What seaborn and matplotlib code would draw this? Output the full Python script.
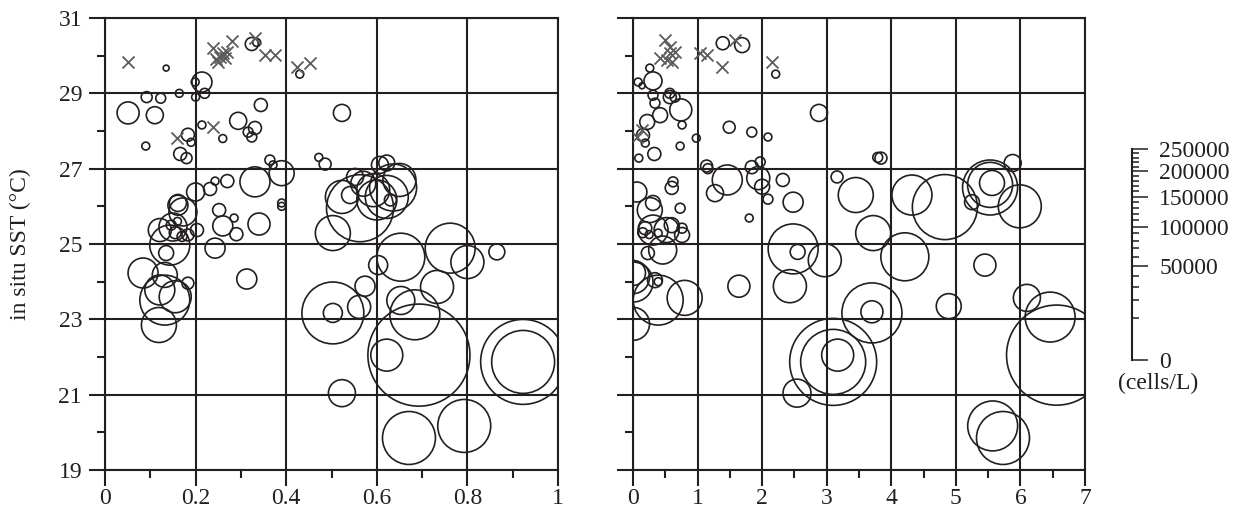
import numpy as np
import pandas as pd
import matplotlib.pyplot as plt
import matplotlib.ticker as mticker
import seaborn as sns

# left panel: circles (x, in situ SST, cells/L)
left_x = [0.135, 0.324, 0.335, 0.43, 0.214, 0.199, 0.20, 0.22, 0.164, 0.092,
          0.123, 0.051, 0.11, 0.09, 0.183, 0.19, 0.166, 0.18, 0.214, 0.26,
          0.294, 0.331, 0.316, 0.324, 0.344, 0.523, 0.472, 0.486, 0.364, 0.371,
          0.39, 0.331, 0.27, 0.243, 0.232, 0.20, 0.161, 0.39, 0.39, 0.503,
          0.523, 0.563, 0.636, 0.622, 0.607, 0.622, 0.552, 0.541, 0.60, 0.63,
          0.592, 0.65, 0.57, 0.762, 0.80, 0.865, 0.603, 0.653, 0.733, 0.653,
          0.574, 0.561, 0.503, 0.503, 0.684, 0.693, 0.622, 0.923, 0.923, 0.523,
          0.671, 0.793, 0.119, 0.143, 0.121, 0.15, 0.161, 0.172, 0.183, 0.203,
          0.135, 0.084, 0.132, 0.121, 0.132, 0.155, 0.183, 0.243, 0.313, 0.252,
          0.26, 0.29, 0.285, 0.34, 0.146, 0.16, 0.155, 0.17]
left_sst = [29.67, 30.31, 30.35, 29.51, 29.3, 29.3, 28.9, 29.0, 29.0, 28.9,
            28.87, 28.48, 28.42, 27.6, 27.9, 27.7, 27.39, 27.28, 28.16, 27.8,
            28.27, 28.08, 27.97, 27.84, 28.69, 28.48, 27.3, 27.12, 27.23, 27.1,
            26.88, 26.65, 26.67, 26.67, 26.46, 26.38, 26.09, 26.09, 26.0, 25.29,
            26.25, 25.95, 26.5, 26.25, 27.1, 27.15, 26.78, 26.3, 26.17, 26.17,
            26.43, 26.7, 26.6, 24.89, 24.52, 24.79, 24.44, 24.65, 23.86, 23.5,
            23.88, 23.33, 23.17, 23.17, 23.12, 22.05, 22.05, 21.87, 21.87, 21.04,
            19.85, 20.17, 22.85, 24.97, 25.37, 25.45, 26.03, 25.85, 25.24, 25.37,
            24.76, 24.23, 24.18, 23.78, 23.51, 23.6, 23.96, 24.89, 24.07, 25.9,
            25.48, 25.26, 25.69, 25.53, 25.5, 25.6, 25.3, 25.2]
left_cells = [800, 3800, 1400, 1400, 9000, 1400, 1400, 2200, 1400, 2700,
              2200, 10900, 6500, 1400, 3800, 1400, 3800, 2700, 1400, 1400,
              6500, 3800, 2200, 2200, 3800, 6500, 1400, 3200, 2200, 1400,
              14000, 20200, 3800, 1400, 3800, 7300, 6500, 1400, 1400, 27500,
              24500, 101000, 49600, 41500, 6500, 5700, 6500, 6500, 36000, 3200,
              24500, 24500, 14000, 56000, 24500, 5700, 8100, 51700, 24500, 17600,
              9000, 11900, 8100, 86000, 56000, 234000, 23000, 162000, 89000, 16400,
              63000, 63000, 27500, 36000, 11900, 17600, 9000, 17600, 3200, 3800,
              5000, 20200, 14000, 20200, 56000, 23000, 3200, 9000, 9000, 3800,
              9000, 3800, 1400, 10900, 2200, 1400, 3200, 2200]
# left panel: samples with no cells (crosses)
left_zero_x = [0.051, 0.239, 0.28, 0.25, 0.26, 0.27, 0.254, 0.245, 0.265,
               0.331, 0.353, 0.375, 0.424, 0.453, 0.159, 0.238]
left_zero_sst = [29.83, 30.2, 30.4, 29.83, 30.07, 30.1, 29.96, 29.9, 29.95,
                 30.47, 30.02, 30.02, 29.7, 29.8, 27.81, 28.1]

# right panel
right_x = [1.39, 1.69, 2.21, 0.26, 0.31, 0.08, 0.14, 0.31, 0.57, 0.57,
           0.65, 0.34, 0.74, 0.42, 0.22, 0.76, 0.155, 0.19, 0.33, 0.09,
           0.73, 0.98, 1.49, 1.84, 2.09, 2.88, 3.79, 1.14, 1.16, 1.46,
           1.27, 1.84, 1.97, 1.94, 2.0, 2.32, 2.09, 2.48, 3.16, 3.45,
           0.06, 0.62, 0.6, 0.31, 0.26, 0.73, 0.31, 0.52, 0.6, 0.19,
           0.39, 0.76, 0.76, 0.46, 0.23, 0.0, 0.0, 0.0, 0.34, 0.39,
           0.39, 0.8, 0.0, 1.8, 2.48, 2.55, 2.97, 2.43, 1.64, 3.72,
           3.70, 3.70, 3.84, 4.32, 4.83, 5.53, 5.53, 5.56, 5.88, 5.25,
           5.99, 4.21, 5.45, 4.89, 6.1, 6.46, 6.56, 5.57, 5.73, 3.1,
           3.1, 3.17, 2.54, 0.15, 0.25]
right_sst = [30.33, 30.28, 29.51, 29.67, 29.33, 29.3, 29.2, 28.95, 28.9, 29.0,
             28.9, 28.74, 28.56, 28.42, 28.24, 28.16, 27.89, 27.68, 27.39, 27.28,
             27.6, 27.81, 28.1, 27.97, 27.84, 28.48, 27.3, 27.07, 27.0, 26.7,
             26.35, 27.04, 27.18, 26.75, 26.52, 26.7, 26.19, 26.11, 26.78, 26.3,
             26.38, 26.65, 26.49, 26.09, 25.9, 25.95, 25.37, 25.37, 25.5, 25.42,
             25.29, 25.24, 25.42, 24.84, 24.76, 24.23, 24.12, 23.99, 24.04, 24.0,
             23.51, 23.57, 22.88, 25.69, 24.87, 24.79, 24.57, 23.88, 23.88, 25.29,
             23.17, 23.2, 27.28, 26.3, 25.98, 26.5, 26.57, 26.62, 27.15, 26.11,
             26.0, 24.66, 24.44, 23.35, 23.57, 23.06, 22.05, 20.17, 19.85, 21.87,
             21.87, 22.05, 21.04, 25.3, 25.25]
right_cells = [3800, 5000, 1400, 1400, 7300, 1400, 800, 2200, 3800, 2200,
               2200, 2200, 10900, 5000, 5000, 1400, 3800, 1400, 3800, 1400,
               1400, 1400, 3200, 2200, 1400, 6500, 2200, 3200, 2200, 20200,
               6500, 3800, 2200, 11900, 5000, 3800, 2200, 9000, 3200, 27500,
               9000, 2200, 3800, 5000, 14000, 2200, 20200, 14000, 5000, 3800,
               1400, 5000, 2200, 17600, 3800, 14000, 24500, 36000, 5000, 1400,
               56000, 27500, 24500, 1400, 56000, 5000, 24500, 24500, 10900, 27500,
               81000, 10900, 3200, 36000, 95000, 68000, 45500, 14000, 6500, 5000,
               41500, 51700, 10900, 14000, 16400, 56000, 225000, 56000, 63000, 170000,
               95000, 23000, 17600, 2200, 1400]
right_zero_x = [0.495, 0.573, 0.65, 0.42, 0.526, 0.6, 0.57, 1.04, 1.14,
                1.38, 1.58, 2.15, 0.14, 0.06]
right_zero_sst = [30.41, 30.23, 30.1, 29.94, 29.88, 29.83, 30.07, 30.07, 30.02,
                  29.7, 30.41, 29.83, 28.03, 27.84]

sst_ticks = [19, 21, 23, 25, 27, 29, 31]
sst_minor = [20, 22, 24, 26, 28, 30]
scale_ticks = [0, 50000, 100000, 150000, 200000, 250000]

sns.set_theme(style="ticks")
plt.rcParams["font.family"] = ["Liberation Serif", "DejaVu Serif"]

ink = "#231f20"
lw = 1.5
fs = 17
max_cells = 250000
max_area = 5770  # marker area (pt^2) for max_cells

fig = plt.figure(figsize=(12.43, 5.17), dpi=100)
ax1 = fig.add_axes([105 / 1243, 47 / 517, 453 / 1243, 452 / 517])
ax2 = fig.add_axes([633 / 1243, 47 / 517, 452 / 1243, 452 / 517])

panels = [
    (ax1, left_x, left_sst, left_cells, left_zero_x, left_zero_sst, 1, 0.2, 0.1),
    (ax2, right_x, right_sst, right_cells, right_zero_x, right_zero_sst, 7, 1, 0.5),
]

for ax, xs, ys, cs, zx, zy, xmax, xmaj, xmin in panels:
    df = pd.DataFrame({"x": xs, "sst": ys, "cells": cs})
    sns.scatterplot(data=df, x="x", y="sst", size="cells",
                    sizes=(0, max_area), size_norm=(0, max_cells),
                    facecolor="none", edgecolor=ink, linewidth=1.2,
                    legend=False, ax=ax, zorder=3)
    sns.scatterplot(x=zx, y=zy, marker="x", s=75, color="#5c5c5c",
                    edgecolor="#5c5c5c", linewidth=1.3, legend=False, ax=ax,
                    zorder=3)
    ax.set_xlim(0, xmax)
    ax.set_ylim(19, 31)
    ax.xaxis.set_major_locator(mticker.MultipleLocator(xmaj))
    ax.xaxis.set_minor_locator(mticker.MultipleLocator(xmin))
    ax.yaxis.set_major_locator(mticker.FixedLocator(sst_ticks))
    ax.yaxis.set_minor_locator(mticker.FixedLocator(sst_minor))
    ax.xaxis.set_major_formatter(mticker.FuncFormatter(lambda v, p: f"{v:g}"))
    ax.grid(True, which="major", color=ink, linewidth=lw)
    ax.tick_params(which="major", length=11.5, width=lw, color=ink,
                   labelsize=fs, labelcolor=ink)
    ax.tick_params(which="minor", length=5.8, width=lw, color=ink)
    ax.tick_params(axis="y", which="major", pad=5)
    ax.tick_params(axis="x", which="major", pad=1.5)
    for s in ax.spines.values():
        s.set_linewidth(lw)
        s.set_color(ink)
    ax.set_xlabel("")
    ax.set_ylabel("")

ax2.tick_params(axis="y", labelleft=False)
ax1.set_ylabel("in situ SST (°C)", fontsize=fs, color=ink)
ax1.yaxis.set_label_coords(-0.163, 0.5)

# size scale
axl = fig.add_axes([1122 / 1243, 157 / 517, 10 / 1243, 211 / 517])
axl.set_yscale("function", functions=(lambda v: np.sqrt(np.clip(v, 0, None)),
                                      lambda v: np.square(v)))
axl.set_ylim(0, max_cells)
axl.set_xticks([])
for side in ["left", "top", "bottom"]:
    axl.spines[side].set_visible(False)
axl.spines["right"].set_linewidth(lw)
axl.spines["right"].set_color(ink)
axl.patch.set_alpha(0)
axl.yaxis.tick_right()
axl.yaxis.set_major_locator(mticker.FixedLocator(scale_ticks))
axl.yaxis.set_minor_locator(mticker.MultipleLocator(10000))
axl.yaxis.set_major_formatter(mticker.FuncFormatter(lambda v, p: f"{v:.0f}"))
axl.tick_params(axis="y", which="major", length=11.5, width=1.1, color=ink,
                labelsize=fs, labelcolor=ink, pad=8)
axl.tick_params(axis="y", which="minor", length=5, width=1.1, color=ink)
fig.text(1158 / 1243, 1 - 383 / 517, "(cells/L)", ha="center", va="center",
         fontsize=fs, color=ink)

plt.savefig("out.png", dpi=100)
